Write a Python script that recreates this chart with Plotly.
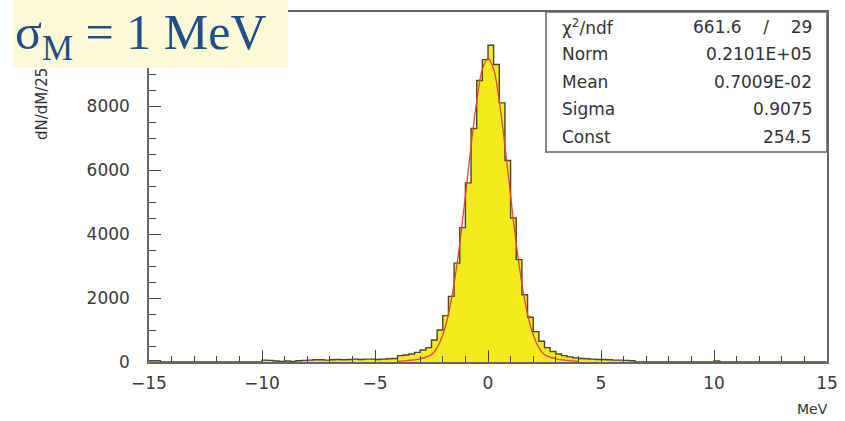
import plotly.graph_objects as go

# ---------------- data ----------------
bin_lo = -15.0
bin_width = 0.25
# counts per 0.25 MeV bin, from -15 to +15 (120 bins)
counts_m15_m10 = [40, 40, 0, 0, 0, 0, 0, 0, 0, 0, 0, 0, 0, 0, 0, 0, 0, 0, 0, 0]
counts_m10_m5 = [60, 50, 30, 20, 30, 20, 40, 50, 60, 70, 70, 60, 70, 80, 70, 80, 90, 80, 90, 90]
counts_m5_0 = [80, 90, 100, 110, 200, 220, 250, 300, 375, 450, 690, 1000, 1450, 2050, 3090, 4200,
               5600, 7300, 8800, 9450]
counts_0_5 = [9900, 9300, 8100, 6300, 4500, 3200, 2100, 1400, 950, 650, 450, 330, 250, 200, 160, 130,
              110, 100, 90, 80]
counts_5_10 = [80, 70, 60, 60, 50, 40, 0, 0, 0, 0, 0, 0, 0, 0, 0, 0, 0, 0, 0, 0]
counts_10_15 = [30, 0, 0, 0, 0, 0, 0, 0, 0, 0, 0, 0, 0, 0, 0, 0, 0, 0, 0, 0]
counts = counts_m15_m10 + counts_m10_m5 + counts_m5_0 + counts_0_5 + counts_5_10 + counts_10_15

fit_x = [-4.0, -3.5, -3.0, -2.5, -2.25, -2.0, -1.75, -1.5, -1.25, -1.0, -0.75, -0.5, -0.25, 0.0,
         0.25, 0.5, 0.75, 1.0, 1.25, 1.5, 1.75, 2.0, 2.25, 2.5, 3.0, 3.5, 4.0]
fit_y = [20, 50, 100, 230, 450, 850, 1500, 2450, 3700, 5200, 6750, 8150, 9150, 9500,
         9150, 8150, 6750, 5200, 3700, 2450, 1500, 850, 450, 230, 100, 50, 20]

x_ticks = [-15, -10, -5, 0, 5, 10, 15]
y_ticks = [0, 2000, 4000, 6000, 8000]

stat_labels = ["χ<sup>2</sup>/ndf", "Norm", "Mean", "Sigma", "Const"]
stat_values = ["661.6    /    29", "0.2101E+05", "0.7009E-02", "0.9075", "254.5"]

# ---------------- figure ----------------
edges = [bin_lo + bin_width * i for i in range(len(counts) + 1)]
hx = edges
hy = counts + [counts[-1]]

fig = go.Figure()
fig.add_trace(go.Scatter(
    x=hx, y=hy, mode="lines", line=dict(shape="hv", color="#4a4628", width=1.4),
    fill="tozeroy", fillcolor="#f4ea1c", hoverinfo="skip", showlegend=False))
fig.add_trace(go.Scatter(
    x=fit_x, y=fit_y, mode="lines", line=dict(shape="spline", color="#e0483c", width=1.3),
    hoverinfo="skip", showlegend=False))

SANS = "DejaVu Sans, Verdana"
tickfont = dict(family=SANS, size=17, color="#3a3a3a")
fig.update_xaxes(
    range=[-15, 15], tickvals=x_ticks, ticks="inside", ticklen=12, tickwidth=1.3, tickcolor="#444",
    minor=dict(dtick=1, ticks="inside", ticklen=6, tickwidth=1.2, tickcolor="#444"),
    showline=True, linecolor="#666", linewidth=1.5, mirror=True, showgrid=False, zeroline=False,
    tickfont=tickfont, ticklabelstandoff=5, automargin=False)
fig.update_yaxes(
    range=[0, 10940], tickvals=y_ticks, ticks="inside", ticklen=12, tickwidth=1.3, tickcolor="#444",
    minor=dict(dtick=500, ticks="inside", ticklen=7, tickwidth=1.2, tickcolor="#444"),
    showline=True, linecolor="#666", linewidth=1.5, mirror=True, showgrid=False, zeroline=False,
    tickfont=tickfont, ticklabelstandoff=14, automargin=False)

shapes = [
    # stats box
    dict(type="rect", xref="paper", yref="paper", x0=(546 - 149) / 678, x1=1.0,
         y0=(362 - 152) / 350, y1=1.0, fillcolor="white", line=dict(color="#666", width=1.5),
         layer="above"),
    # sigma label background
    dict(type="rect", xref="paper", yref="paper", x0=(13 - 149) / 678, x1=(288 - 149) / 678,
         y0=(362 - 68) / 350, y1=(362 + 2) / 350, fillcolor="#fcfad6", line=dict(width=0),
         layer="above"),
]

annotations = []
row_y = [27, 54, 82, 109, 137]
sfont = dict(family=SANS, size=17, color="#333")
for lab, val, py in zip(stat_labels, stat_values, row_y):
    annotations.append(dict(xref="paper", yref="paper", x=(560 - 149) / 678, y=(362 - py) / 350,
                            text=lab, showarrow=False, xanchor="left", yanchor="middle", font=sfont))
    annotations.append(dict(xref="paper", yref="paper", x=(814 - 149) / 678, y=(362 - py) / 350,
                            text=val, showarrow=False, xanchor="right", yanchor="middle", font=sfont))

annotations.append(dict(xref="paper", yref="paper", x=(13 - 149) / 678, y=(362 - 36) / 350,
                        text="σ<sub>M</sub> = 1 MeV", showarrow=False, xanchor="left", yanchor="middle",
                        font=dict(family="Liberation Serif, Times New Roman", size=50, color="#1f4e8a")))
annotations.append(dict(xref="paper", yref="paper", x=(42 - 149) / 678, y=(362 - 104) / 350,
                        text="dN/dM/25", textangle=-90, showarrow=False, xanchor="center", yanchor="middle",
                        font=dict(family=SANS, size=15, color="#333")))
annotations.append(dict(xref="paper", yref="paper", x=(812 - 149) / 678, y=(362 - 409) / 350,
                        text="MeV", showarrow=False, xanchor="center", yanchor="middle",
                        font=dict(family=SANS, size=14, color="#333")))

fig.update_layout(
    width=845, height=421, margin=dict(l=149, r=18, t=12, b=59),
    paper_bgcolor="white", plot_bgcolor="white",
    shapes=shapes, annotations=annotations, showlegend=False)

fig.write_html("out.html")
